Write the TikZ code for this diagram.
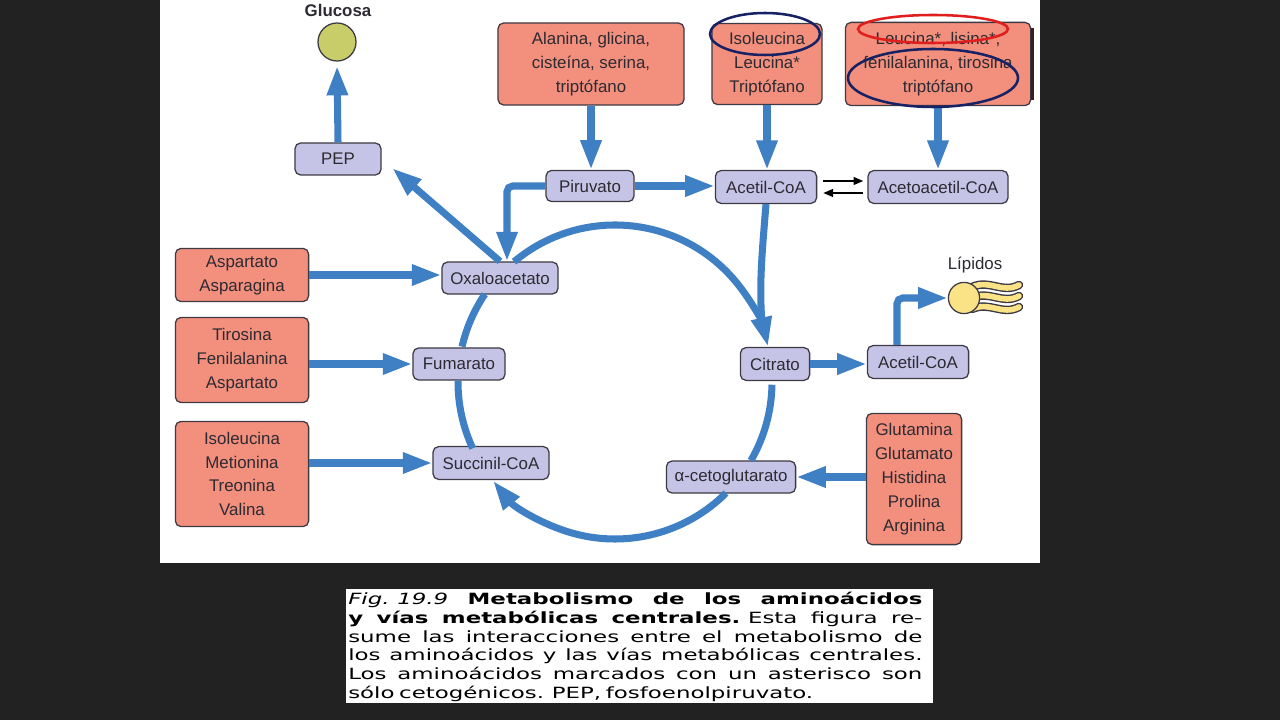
\documentclass[tikz,border=0pt]{standalone}
\usepackage{fontspec}
\setmainfont{Liberation Sans}
\newfontfamily\leyenda[FakeStretch=1.48]{DejaVu Sans}
\usetikzlibrary{arrows.meta, calc}

\definecolor{fondo}{RGB}{34,34,34}
\definecolor{azul}{RGB}{63,127,196}
\definecolor{salmon}{RGB}{243,143,125}
\definecolor{lila}{RGB}{197,196,231}
\definecolor{borde}{RGB}{62,58,68}
\definecolor{texto}{RGB}{45,42,50}
\definecolor{verdeglc}{RGB}{200,205,105}
\definecolor{amarillo}{RGB}{250,226,135}
\definecolor{marino}{RGB}{22,34,100}
\definecolor{rojo}{RGB}{225,30,30}
\definecolor{sombra}{RGB}{60,30,30}

\begin{document}
\begin{tikzpicture}[x=0.025cm, y=-0.025cm,
    txt/.style={font=\fontsize{12}{17}\selectfont, text=texto},
    meta/.style={txt, draw=borde, line width=0.9pt, fill=lila, rounded corners=4pt,
        minimum height=0.82cm, inner sep=2pt},
    amino/.style={txt, draw=borde, line width=0.9pt, fill=salmon, rounded corners=4pt,
        align=center, inner sep=2pt},
    flow/.style={draw=azul, line width=5pt, -{Triangle[length=21pt, width=14pt]}},
    tramo/.style={draw=azul, line width=5pt},
    eq/.style={draw=black, line width=1.4pt, -{Triangle[length=7pt, width=5.5pt]}},
    marca/.style={line width=1.8pt}]

    % fondo y paneles
    \fill[fondo] (0,0) rectangle (1280,720);
    \useasboundingbox (0,0) rectangle (1280,720);
    \fill[white] (160,0) rectangle (1040,563);
    \fill[white] (346,589) rectangle (933,703);

    % aminoacidos
    \node[amino, minimum width=4.65cm, minimum height=2.05cm] (r1) at (591,64) {Alanina, glicina,\\cisteína, serina,\\triptófano};
    \node[amino, minimum width=2.75cm, minimum height=2.03cm] (r2) at (767,64) {Isoleucina\\Leucina*\\Triptófano};
    \node[amino, minimum width=4.63cm, minimum height=2.08cm] (r3) at (938,64) {Leucina*, lisina*;\\fenilalanina, tirosina\\triptófano};
    \node[amino, minimum width=3.33cm, minimum height=1.33cm] (asp) at (242,275) {Aspartato\\Asparagina};
    \node[amino, minimum width=3.33cm, minimum height=2.13cm] (tir) at (242,360) {Tirosina\\Fenilalanina\\Aspartato};
    \node[amino, minimum width=3.33cm, minimum height=2.63cm] (iso) at (242,474) {Isoleucina\\Metionina\\Treonina\\Valina};
    \node[amino, minimum width=2.38cm, minimum height=3.28cm] (glu) at (914,479) {Glutamina\\Glutamato\\Histidina\\Prolina\\Arginina};
    \draw[sombra, line width=2.2pt] ($(r3.north east)+(1,6)$) -- ($(r3.south east)+(1,-6)$);

    % metabolitos
    \node[meta, minimum width=2.15cm, minimum height=0.8cm] (pep) at (338,159) {PEP};
    \node[meta, minimum width=2.2cm, minimum height=0.78cm] (pir) at (590,186) {Piruvato};
    \node[meta, minimum width=2.53cm] (aca) at (766,187) {Acetil-CoA};
    \node[meta, minimum width=3.5cm] (aac) at (938,187) {Acetoacetil-CoA};
    \node[meta, minimum width=2.9cm, minimum height=0.8cm] (oxa) at (500,278) {Oxaloacetato};
    \node[meta, minimum width=2.3cm, minimum height=0.8cm] (fum) at (459,364) {Fumarato};
    \node[meta, minimum width=2.9cm] (suc) at (491,463) {Succinil-CoA};
    \node[meta, minimum width=3.23cm, minimum height=0.8cm] (akg) at (731,477) {α-cetoglutarato};
    \node[meta, minimum width=1.73cm] (cit) at (775,364) {Citrato};
    \node[meta, minimum width=2.53cm] (acr) at (918,362) {Acetil-CoA};

    % glucosa y lipidos
    \node[font=\bfseries\fontsize{12}{14}\selectfont, text=texto] (tglc) at (338,10) {Glucosa};
    \node[circle, draw=borde, line width=0.9pt, fill=verdeglc, minimum size=0.95cm] (glc) at (337,42) {};
    \node[txt] (tlip) at (975,265) {Lípidos};
    \foreach \dy in {-11,0,11} {
        \draw[borde, line width=6pt, line cap=round] (972,298+\dy) .. controls (990,290+\dy) and (1002,305+\dy) .. (1019,296+\dy);
        \draw[amarillo, line width=4pt, line cap=round] (972,298+\dy) .. controls (990,290+\dy) and (1002,305+\dy) .. (1019,296+\dy);
    }
    \node[circle, draw=borde, line width=0.9pt, fill=amarillo, minimum size=0.78cm] (lip) at (964,298) {};

    % ciclo
    \coordinate (cic) at (615,382);
    \coordinate (une) at ($(cic)+(-20:157)$);
    \draw[flow] ($(cic)+(-130:157)$) arc[start angle=-130, end angle=-13, radius=157];
    \draw[tramo] ($(cic)+(1:157)$) arc[start angle=1, end angle=30, radius=157];
    \draw[flow] ($(cic)+(45:157)$) arc[start angle=45, end angle=141, radius=157];
    \draw[tramo] ($(cic)+(155:157)$) arc[start angle=155, end angle=180.5, radius=157];
    \draw[tramo] ($(cic)+(193:157)$) arc[start angle=193, end angle=214, radius=157];

    % flechas
    \draw[flow, shorten >=3pt] (pep.north) -- (glc.south);
    \draw[flow, shorten >=10pt] (oxa.north) -- (pep.east);
    \draw[flow] (r1.south) -- (r1.south |- pir.north);
    \draw[flow, rounded corners=4pt] (pir.west) -| ($(oxa.north)+(7,0)$);
    \draw[flow] (pir.east) -- (pir.east -| aca.west);
    \draw[flow] (r2.south) -- (r2.south |- aca.north);
    \draw[flow] (r3.south) -- (aac.north);
    \draw[tramo] (aca.south) .. controls +(-4,50) and +(-4,-40) .. (une);
    \draw[flow] (asp.east) -- (asp.east -| oxa.west);
    \draw[flow] (tir.east |- fum) -- (fum.west);
    \draw[flow] (iso.east |- suc) -- (suc.west);
    \draw[flow] (glu.west |- akg) -- (akg.east);
    \draw[flow] (cit.east) -- (cit.east -| acr.west);
    \draw[flow, rounded corners=4pt] ($(acr.north)+(-21,0)$) |- (lip.west);
    \draw[eq] ($(aca.east)+(6,-6)$) -- ($(aac.west)+(-4,-6)$);
    \draw[eq] ($(aac.west)+(-4,6)$) -- ($(aca.east)+(6,6)$);

    % marcas
    \draw[marca, marino] (765,34) ellipse [x radius=55, y radius=21];
    \draw[marca, rojo] (933,29) ellipse [x radius=75, y radius=14];
    \draw[marca, marino] (933,78) ellipse [x radius=85, y radius=29];

    % pie de figura
    \node[anchor=north west, inner sep=0pt, text width=14.35cm, text=black,
        font=\leyenda\fontsize{11}{13.3}\selectfont] (pie) at (348,592) {%
        \spaceskip=0.3em plus 1em minus 0.05em\relax
        \makebox[14.35cm][s]{\itshape Fig. 19.9 \bfseries\upshape Metabolismo de los aminoácidos}\\
        \makebox[14.35cm][s]{\bfseries y vías metabólicas centrales.\mdseries{} Esta figura re-}\\
        \makebox[14.35cm][s]{sume las interacciones entre el metabolismo de}\\
        \makebox[14.35cm][s]{los aminoácidos y las vías metabólicas centrales.}\\
        \makebox[14.35cm][s]{Los aminoácidos marcados con un asterisco son}\\
        sólo cetogénicos. PEP, fosfoenolpiruvato.};
\end{tikzpicture}
\end{document}
